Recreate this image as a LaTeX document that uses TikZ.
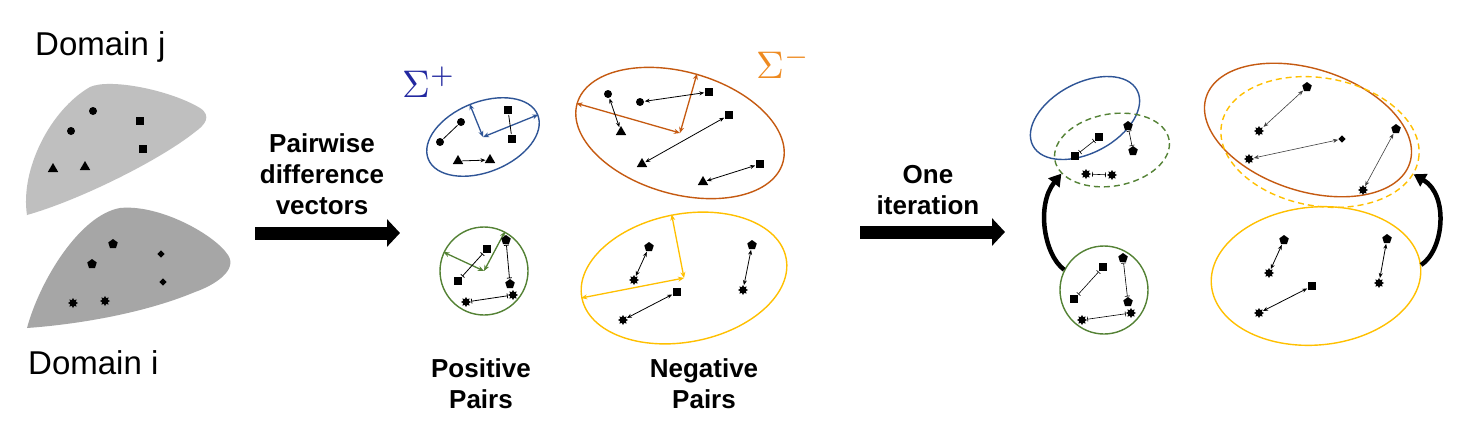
\documentclass[tikz,border=0pt]{standalone}
\usepackage{fontspec}
\setmainfont{Liberation Sans}
\usetikzlibrary{shapes.geometric,arrows.meta}
\definecolor{cblue}{HTML}{2F5597}
\definecolor{corange}{HTML}{C55A11}
\definecolor{cgreen}{HTML}{548235}
\definecolor{cyellow}{HTML}{FFC000}
\definecolor{sigplus}{HTML}{2228A0}
\definecolor{sigminus}{HTML}{EE8A20}
\definecolor{blobA}{HTML}{BFBFBF}
\definecolor{blobB}{HTML}{A6A6A6}
\begin{document}
\begin{tikzpicture}[x=1pt,y=1pt,
  sym/.style={fill=black,inner sep=0pt,outer sep=0.8pt},
  circ/.style={sym,circle,minimum size=8pt},
  sqr/.style={sym,rectangle,minimum size=8pt},
  tri/.style={sym,regular polygon,regular polygon sides=3,minimum size=12pt},
  pent/.style={sym,regular polygon,regular polygon sides=5,minimum size=10pt},
  dia/.style={sym,diamond,minimum size=8pt},
  burst/.style={sym,star,star points=8,star point ratio=1.6,minimum size=10pt},
  region/.style={ellipse,inner sep=0pt,line width=1.4pt},
  disc/.style={circle,inner sep=0pt,line width=1.4pt},
  dashedregion/.style={region,dash pattern=on 6pt off 4pt},
  axisarr/.style={line width=1.3pt,{Stealth[length=6pt,width=5pt]}-{Stealth[length=6pt,width=5pt]}},
  duo/.style={line width=0.8pt,{Stealth[length=5pt,width=4pt]}-{Stealth[length=5pt,width=4pt]}},
  duothin/.style={line width=0.6pt,draw=black!75,{Stealth[length=5pt,width=4pt]}-{Stealth[length=5pt,width=4pt]}},
  barred/.style={line width=0.8pt,{Bar[width=5pt]}-{Bar[width=5pt]}},
  plainpair/.style={line width=0.8pt},
  bigarrow/.style={line width=13pt,-{Triangle[length=13pt,width=27pt]}},
  curvearrow/.style={line width=4.5pt,-{Triangle[length=12pt,width=14pt]}},
  lbl/.style={font=\fontsize{26}{31}\selectfont\bfseries,align=center,inner sep=0pt},
  domlbl/.style={font=\fontsize{33}{40}\selectfont,inner sep=0pt,anchor=base west},
  siglbl/.style={anchor=base west,inner sep=0pt},
]
\fill[white] (0,0) rectangle (1468,-434);
\useasboundingbox (0,0) rectangle (1468,-434);

% ---------- left blobs ----------
\fill[blobA] (27,-215) .. controls (20,-170) and (50,-110) .. (90,-87)
  .. controls (110,-78) and (170,-90) .. (200,-108)
  .. controls (212,-116) and (205,-125) .. (195,-132)
  .. controls (160,-160) and (80,-200) .. (27,-215) -- cycle;
\fill[blobB] (27,-328) .. controls (40,-280) and (80,-215) .. (120,-208)
  .. controls (160,-204) and (215,-235) .. (228,-255)
  .. controls (238,-270) and (215,-285) .. (195,-292)
  .. controls (140,-315) and (70,-325) .. (27,-328) -- cycle;
\node[circ] (lc1) at (93,-111) {};
\node[circ] (lc2) at (71,-131) {};
\node[sqr] (ls1) at (140,-121) {};
\node[sqr] (ls2) at (143,-149) {};
\node[tri] (lt1) at (53,-169) {};
\node[tri] (lt2) at (85,-167) {};
\node[pent] (lp1) at (113,-244) {};
\node[pent] (lp2) at (92,-264) {};
\node[dia] (ld1) at (161,-254) {};
\node[dia] (ld2) at (163,-282) {};
\node[burst] (lb1) at (73,-303) {};
\node[burst] (lb2) at (105,-301) {};

\node[domlbl] (dj) at (35,-55) {Domain j};
\node[domlbl] (di) at (28,-374) {Domain i};

% ---------- big arrows & labels ----------
\node[lbl,anchor=north] (pdv) at (322,-133) {Pairwise\\difference\\vectors};
\coordinate (pa1) at (255,-233);
\coordinate (pa2) at (400,-233);
\draw[bigarrow] (pa1) -- (pa2);

\node[lbl,anchor=north] (oit) at (928,-165) {One\\iteration};
\coordinate (oa1) at (860,-232);
\coordinate (oa2) at (1005,-232);
\draw[bigarrow] (oa1) -- (oa2);

\node[lbl,anchor=north] (pp) at (481,-358) {Positive\\Pairs};
\node[lbl,anchor=north] (np) at (704,-358) {Negative\\Pairs};

\node[siglbl,text=sigplus] (sp) at (402,-97) {\scalebox{3.85}{$\Sigma^+$}};
\node[siglbl,text=sigminus] (sm) at (756,-78) {\scalebox{3.85}{$\Sigma^-$}};

% ---------- middle: regions ----------
\node[region,draw=cblue,minimum width=118pt,minimum height=70pt,rotate=22] (be) at (483,-137) {};
\node[region,draw=corange,minimum width=214pt,minimum height=122pt,rotate=-16] (oe) at (680,-133) {};
\node[region,draw=cyellow,minimum width=208pt,minimum height=128pt,rotate=11] (ye) at (684,-278) {};
\node[disc,draw=cgreen,minimum size=88pt] (gc) at (484,-271) {};

\draw[axisarr,cblue] (be.center) -- (be.north);
\draw[axisarr,cblue] (be.center) -- (be.east);
\draw[axisarr,corange] (oe.center) -- (oe.north);
\draw[axisarr,corange] (oe.center) -- (oe.west);
\draw[axisarr,cyellow] (ye.center) -- (ye.north);
\draw[axisarr,cyellow] (ye.center) -- (ye.west);
\draw[axisarr,cgreen] (gc.center) -- (gc.155);
\draw[axisarr,cgreen] (gc.center) -- (gc.62);

% blue (positive, source)
\node[circ] (c1) at (440,-142) {};
\node[circ] (c2) at (461,-122) {};
\node[sqr] (s1) at (508,-110) {};
\node[sqr] (s2) at (512,-139) {};
\node[tri] (t1) at (458,-161) {};
\node[tri] (t2) at (490,-160) {};
\draw[plainpair] (c1) -- (c2);
\draw[plainpair] (s1) -- (s2);
\draw[plainpair,-{Stealth[length=5pt,width=4pt]}] (t1) -- (t2);

% orange (negative, source)
\node[circ] (oc1) at (608,-94) {};
\node[circ] (oc2) at (640,-102) {};
\node[sqr] (os1) at (709,-92) {};
\node[sqr] (os2) at (729,-115) {};
\node[sqr] (os3) at (760,-164) {};
\node[tri] (ot1) at (621,-132) {};
\node[tri] (ot2) at (642,-164) {};
\node[tri] (ot3) at (703,-182) {};
\draw[duo] (oc1) -- (ot1);
\draw[duo] (oc2) -- (os1);
\draw[duo] (os2) -- (ot2);
\draw[duo] (os3) -- (ot3);

% green (positive, target)
\node[sqr] (gs1) at (487,-249) {};
\node[sqr] (gs2) at (458,-281) {};
\node[pent] (gp1) at (506,-240) {};
\node[pent] (gp2) at (510,-284) {};
\node[burst] (gb1) at (513,-295) {};
\node[burst] (gb2) at (466,-302) {};
\draw[barred] (gs1) -- (gs2);
\draw[barred] (gp1) -- (gp2);
\draw[barred] (gb1) -- (gb2);

% yellow (negative, target)
\node[pent] (yp1) at (649,-247) {};
\node[pent] (yp2) at (752,-245) {};
\node[burst] (yb1) at (634,-280) {};
\node[burst] (yb2) at (743,-290) {};
\node[burst] (yb3) at (623,-320) {};
\node[sqr] (ys1) at (677,-292) {};
\draw[duo] (yp1) -- (yb1);
\draw[duo] (yp2) -- (yb2);
\draw[duo] (ys1) -- (yb3);

% ---------- right: after one iteration ----------
\node[region,draw=cblue,minimum width=118pt,minimum height=70pt,rotate=28] (rbe) at (1085,-118) {};
\node[dashedregion,draw=cgreen,minimum width=116pt,minimum height=72pt,rotate=10] (ge) at (1112,-150) {};
\node[disc,draw=cgreen,minimum size=88pt] (gc2) at (1104,-290) {};
\node[region,draw=corange,minimum width=214pt,minimum height=122pt,rotate=-18] (ro) at (1308,-130) {};
\node[dashedregion,draw=cyellow,minimum width=200pt,minimum height=128pt,rotate=-10] (yd) at (1320,-142) {};
\node[region,draw=cyellow,minimum width=210pt,minimum height=138pt,rotate=5] (ye2) at (1316,-276) {};

\node[sqr] (rs1) at (1099,-137) {};
\node[sqr] (rs2) at (1075,-156) {};
\node[pent] (rp1) at (1128,-126) {};
\node[pent] (rp2) at (1133,-151) {};
\node[burst] (rb1) at (1086,-174) {};
\node[burst] (rb2) at (1112,-175) {};
\draw[barred,line width=0.6pt] (rs1) -- (rs2);
\draw[barred,line width=0.6pt] (rp1) -- (rp2);
\draw[barred,line width=0.6pt] (rb1) -- (rb2);

\node[sqr] (qs1) at (1103,-267) {};
\node[sqr] (qs2) at (1074,-299) {};
\node[pent] (qp1) at (1123,-258) {};
\node[pent] (qp2) at (1128,-302) {};
\node[burst] (qb1) at (1131,-313) {};
\node[burst] (qb2) at (1082,-320) {};
\draw[barred,line width=0.6pt] (qs1) -- (qs2);
\draw[barred,line width=0.6pt] (qp1) -- (qp2);
\draw[barred,line width=0.6pt] (qb1) -- (qb2);

\node[pent] (up1) at (1307,-87) {};
\node[pent] (up2) at (1396,-129) {};
\node[burst] (ub1) at (1259,-131) {};
\node[burst] (ub2) at (1249,-159) {};
\node[burst] (ub3) at (1363,-190) {};
\node[dia] (ud1) at (1342,-139) {};
\draw[duothin] (up1) -- (ub1);
\draw[duothin] (ud1) -- (ub2);
\draw[duothin] (up2) -- (ub3);

\node[pent] (vp1) at (1284,-240) {};
\node[pent] (vp2) at (1387,-239) {};
\node[burst] (vb1) at (1269,-273) {};
\node[burst] (vb2) at (1379,-283) {};
\node[burst] (vb3) at (1259,-313) {};
\node[sqr] (vs1) at (1312,-286) {};
\draw[duo] (vp1) -- (vb1);
\draw[duo] (vp2) -- (vb2);
\draw[duo] (vs1) -- (vb3);

% curved arrows
\draw[curvearrow] (gc2.153) .. controls (1044,-255) and (1036,-205) .. (ge.195);
\draw[curvearrow] (ye2.1) .. controls (1444,-250) and (1449,-195) .. (yd.351);
\end{tikzpicture}
\end{document}
